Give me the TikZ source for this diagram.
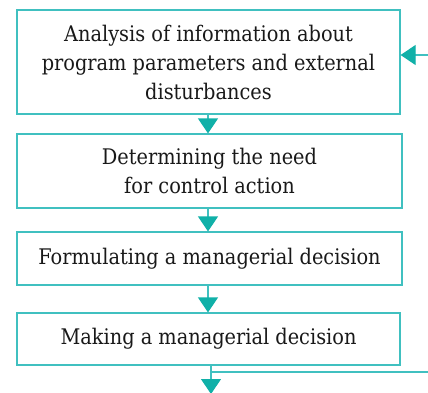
\documentclass[tikz,border=0pt]{standalone}
\usepackage{fontspec}
\setmainfont{DejaVu Serif Condensed}
\usetikzlibrary{arrows.meta}
\definecolor{tealline}{RGB}{64,192,192}
\definecolor{tealhead}{RGB}{16,176,168}
\tikzset{
  stage/.style={draw=tealline, line width=1.2pt, fill=white, align=center,
    inner sep=0pt, font=\fontsize{21.5}{29}\selectfont, text=black!90},
  flow/.style={draw=tealline, line width=1.2pt,
    -{Triangle[width=20pt,length=15pt,color=tealhead]}},
  link/.style={draw=tealline, line width=1.2pt}
}
\begin{document}
\begin{tikzpicture}[x=1pt,y=-1pt]
  \useasboundingbox (0,0) rectangle (428,392);
  \node[stage, minimum width=383pt, minimum height=104pt] (analysis) at (208.5,62)
    {Analysis of information about\\program parameters and external\\disturbances};
  \node[stage, minimum width=385pt, minimum height=74pt] (need) at (209.5,171)
    {Determining the need\\for control action};
  \node[stage, minimum width=385pt, minimum height=53pt] (form) at (209.5,258.5)
    {Formulating a managerial decision};
  \node[stage, minimum width=383pt, minimum height=52pt] (make) at (208.5,339)
    {Making a managerial decision};
  % downward flow between stages
  \draw[flow] (analysis.south -| 208,0) -- (need.north -| 208,0);
  \draw[flow] (need.south -| 208,0) -- (form.north -| 208,0);
  \draw[flow] (form.south -| 208,0) -- (make.north -| 208,0);
  % output and feedback
  \coordinate (out) at (211,394);
  \coordinate (branch) at (211,372);
  \coordinate (edgeR) at (428,372);
  \coordinate (fbin) at (428,55);
  \draw[flow] (make.south -| out) -- (out);
  \draw[link] (branch) -- (edgeR);
  \draw[flow] (fbin) -- (fbin -| analysis.east);
\end{tikzpicture}
\end{document}
